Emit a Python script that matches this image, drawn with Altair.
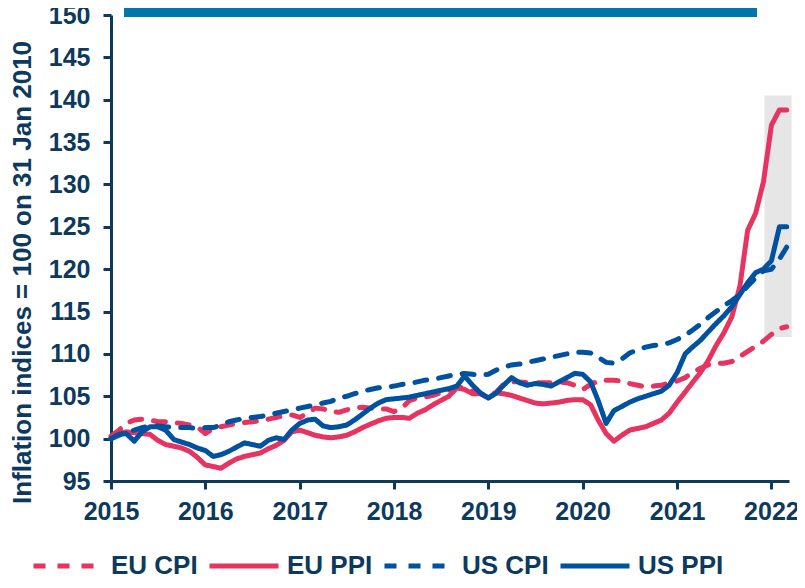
import altair as alt
import pandas as pd

# ---------------- data ----------------
months = pd.date_range("2015-01-01", periods=87, freq="MS").strftime("%Y-%m-%dT00:00:00").tolist()

series_names = ["EU CPI", "EU PPI", "US CPI", "US PPI"]

eu_cpi = [
    100.3, 101.0, 101.8, 102.2, 102.3, 102.2, 102.0, 102.0, 101.9, 101.8, 101.6, 101.4,
    100.6, 101.2, 101.4, 101.6, 101.8, 101.9, 102.0, 102.1, 102.3, 102.5, 102.7, 102.8,
    102.5, 103.0, 103.6, 103.5, 103.2, 103.1, 103.4, 103.6, 103.7, 103.6, 103.5, 103.5,
    103.2, 103.6, 104.5, 104.8, 104.9, 105.1, 105.4, 105.7, 106.1, 106.0, 105.6, 105.3,
    104.9, 105.5, 106.4, 106.7, 106.7, 106.6, 106.6, 106.6, 106.6, 106.7, 106.6, 106.3,
    105.8, 106.4, 106.8, 106.9, 106.9, 106.8, 106.5, 106.3, 106.1, 106.2, 106.3, 106.6,
    106.8, 107.2, 107.8, 108.3, 108.7, 108.9, 108.9, 109.1, 109.7, 110.3, 110.9, 111.5,
    112.3, 113.0, 113.2,
]

eu_ppi = [
    100.0, 100.6, 100.8, 100.7, 100.6, 100.5, 99.8, 99.3, 99.1, 98.9, 98.5, 97.8,
    96.9, 96.7, 96.5, 97.1, 97.6, 97.9, 98.1, 98.3, 98.8, 99.2, 99.8, 100.8,
    101.0, 100.7, 100.4, 100.2, 100.1, 100.2, 100.4, 100.8, 101.3, 101.7, 102.1, 102.4,
    102.5, 102.5, 102.4, 103.0, 103.4, 104.0, 104.5, 105.0, 106.0, 105.8, 105.3, 105.3,
    104.8, 105.4, 105.3, 105.1, 104.8, 104.5, 104.2, 104.1, 104.2, 104.3, 104.5, 104.6,
    104.6, 104.0, 102.2, 100.6, 99.7, 100.4, 101.0, 101.2, 101.4, 101.8, 102.2, 103.0,
    104.3, 105.5, 106.6, 107.8, 109.2, 111.0, 112.5, 114.4, 118.0, 124.6, 126.6, 130.3,
    137.0, 138.8, 138.8,
]

us_cpi = [
    100.0, 100.4, 100.8, 101.0, 101.3, 101.5, 101.5, 101.4, 101.3, 101.3, 101.3, 101.2,
    101.3, 101.3, 101.6, 102.0, 102.2, 102.4, 102.5, 102.6, 102.8, 103.0, 103.2, 103.4,
    103.6, 103.8, 104.0, 104.2, 104.4, 104.8, 105.0, 105.3, 105.6, 105.8, 106.0, 106.1,
    106.2, 106.4, 106.5, 106.7, 106.9, 107.0, 107.2, 107.4, 107.6, 107.7, 107.6, 107.5,
    107.6, 108.1, 108.4, 108.7, 108.8, 109.0, 109.2, 109.4, 109.6, 109.8, 110.0, 110.2,
    110.2, 110.1, 109.6, 109.0, 108.9, 109.4, 110.1, 110.5, 110.8, 111.0, 111.1, 111.3,
    111.7, 112.2, 112.8, 113.5, 114.3, 115.0, 115.7, 116.3, 117.0, 118.0, 119.0, 119.8,
    120.0, 121.2, 122.6,
]

us_ppi = [
    100.0, 100.5, 100.6, 99.7, 100.8, 101.4, 101.4, 101.0, 99.9, 99.6, 99.3, 98.9,
    98.6, 97.9, 98.1, 98.5, 99.0, 99.5, 99.3, 99.1, 99.8, 100.1, 99.9, 101.0,
    101.8, 102.2, 102.3, 101.5, 101.3, 101.4, 101.6, 102.2, 102.9, 103.6, 104.2, 104.6,
    104.7, 104.8, 104.9, 105.1, 105.3, 105.5, 105.7, 105.9, 106.2, 107.4, 106.3, 105.4,
    104.8, 105.4, 106.3, 107.2, 106.6, 106.3, 106.5, 106.4, 106.2, 106.7, 107.2, 107.7,
    107.6, 106.7, 104.5, 101.8, 103.3, 103.8, 104.3, 104.7, 105.0, 105.3, 105.6, 106.3,
    107.8, 110.0, 110.8, 111.6, 112.6, 113.6, 114.5, 115.6, 117.0, 118.4, 119.6, 120.0,
    121.0, 125.0, 125.0,
]

# highlighted window (shaded)
shade_start = ["2021-12-05T00:00:00"]
shade_end = ["2022-03-20T00:00:00"]
shade_low = [112.0]
shade_high = [140.5]

year_ticks = [2015, 2016, 2017, 2018, 2019, 2020, 2021, 2022]
y_ticks = [95, 100, 105, 110, 115, 120, 125, 130, 135, 140, 145, 150]

# ---------------- styling ----------------
PINK = "#E6335F"
BLUE = "#0052A1"
NAVY = "#0D3A5C"
BAR = "#0077AA"
SHADE = "#E6E6E6"
FONT = "Liberation Sans, Arial, sans-serif"

rows = []
for name, vals in zip(series_names, [eu_cpi, eu_ppi, us_cpi, us_ppi]):
    for d, v in zip(months, vals):
        rows.append({"date": d, "value": v, "series": name})
df = pd.DataFrame(rows)

shade_df = pd.DataFrame({"start": shade_start, "end": shade_end, "low": shade_low, "high": shade_high})

x_scale = alt.Scale(domain=[alt.DateTime(year=2015, month=1, date=1),
                            alt.DateTime(year=2022, month=3, date=10)])
y_scale = alt.Scale(domain=[95, 150], nice=False, zero=False)

x_axis = alt.Axis(
    values=[alt.DateTime(year=y, month=1, date=1) for y in year_ticks],
    format="%Y", title=None, grid=False,
    domainColor=NAVY, domainWidth=3, tickColor=NAVY, tickWidth=3, tickSize=8,
    labelColor=NAVY, labelFont=FONT, labelFontSize=25, labelFontWeight="bold",
    labelPadding=10, labelFlush=False, labelOverlap=False,
)
y_axis = alt.Axis(
    values=y_ticks, title="Inflation indices = 100 on 31 Jan 2010", grid=False,
    domainColor=NAVY, domainWidth=3, tickColor=NAVY, tickWidth=3, tickSize=8,
    labelColor=NAVY, labelFont=FONT, labelFontSize=25, labelFontWeight="bold",
    labelPadding=13,
    titleColor=NAVY, titleFont=FONT, titleFontSize=26, titleFontWeight="bold",
    titleAngle=270, titleX=-89, titleY=257, titleAlign="center", titleBaseline="middle",
)

legend_def = alt.Legend(
    title=None, orient="none", direction="horizontal", legendX=-80, legendY=514,
    symbolType="stroke", symbolStrokeWidth=5, symbolSize=4761,
    labelColor=NAVY, labelFont=FONT, labelFontSize=26, labelFontWeight="bold",
    labelOffset=6, columnPadding=1,
)

shade = alt.Chart(shade_df).mark_rect(color=SHADE).encode(
    x=alt.X("start:T", scale=x_scale, axis=x_axis),
    x2="end:T",
    y=alt.Y("low:Q", scale=y_scale, axis=y_axis),
    y2="high:Q",
)

lines = alt.Chart(df).mark_line(strokeWidth=5, strokeCap="round", strokeJoin="round").encode(
    x=alt.X("date:T", scale=x_scale, axis=x_axis),
    y=alt.Y("value:Q", scale=y_scale, axis=y_axis),
    color=alt.Color(
        "series:N",
        scale=alt.Scale(domain=series_names, range=[PINK, PINK, BLUE, BLUE]),
        legend=legend_def,
    ),
    strokeDash=alt.StrokeDash(
        "series:N",
        scale=alt.Scale(domain=series_names, range=[[12, 12], [1, 0], [12, 12], [1, 0]]),
        legend=legend_def,
    ),
    order=alt.Order("series:N"),
)

top_bar = alt.Chart(shade_df).mark_rect(color=BAR).encode(
    x=alt.value(13), x2=alt.value(646), y=alt.value(-7), y2=alt.value(2),
)

chart = alt.layer(shade, lines, top_bar).properties(
    width=678, height=466,
    autosize=alt.AutoSizeParams(type="none"),
    padding={"left": 103, "top": 7, "right": 8, "bottom": 99},
).configure_view(stroke=None)

chart.save("out.html", embed_options={"renderer": "svg", "actions": False})
